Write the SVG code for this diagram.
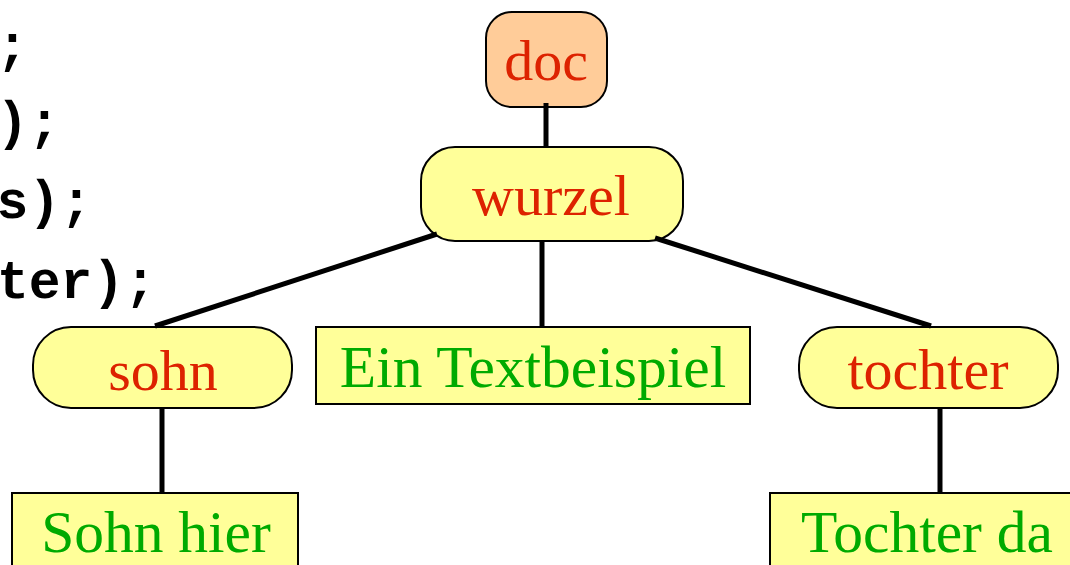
<svg xmlns="http://www.w3.org/2000/svg" width="1070" height="565" viewBox="0 0 1070 565">
<style>
.code{font-family:"Liberation Mono",monospace;font-weight:bold;font-size:53px;fill:#000;text-anchor:end}
.box{fill:#FFFF99;stroke:#000;stroke-width:2}
.root{fill:#FFCC99;stroke:#000;stroke-width:2}
.el{font-family:"Liberation Serif",serif;font-size:58px;fill:#DD2200;text-anchor:middle}
.tx{font-family:"Liberation Serif",serif;font-size:59.5px;fill:#00AA00;text-anchor:middle}
.conn line{stroke:#000;stroke-width:5}
</style>
<rect width="1070" height="565" fill="#fff"/>
<g id="code">
<text class="code" x="28" y="62">;</text>
<text class="code" x="60" y="139">);</text>
<text class="code" x="92" y="218">s);</text>
<text class="code" x="156" y="298">ter);</text>
</g>
<g id="n-doc"><rect class="root" x="486" y="12" width="121" height="95" rx="26"/><text class="el" x="546" y="80">doc</text></g>
<g id="n-wurzel"><rect class="box" x="421" y="147" width="262" height="94" rx="34"/><text class="el" x="551" y="215">wurzel</text></g>
<g id="n-sohn"><rect class="box" x="33" y="327" width="259" height="81" rx="38"/><text class="el" x="163" y="390">sohn</text></g>
<g id="n-text"><rect class="box" x="316" y="327" width="434" height="77"/><text class="tx" x="533" y="387">Ein Textbeispiel</text></g>
<g id="n-tochter"><rect class="box" x="799" y="327" width="259" height="81" rx="38"/><text class="el" x="928" y="389">tochter</text></g>
<g id="n-sohnhier"><rect class="box" x="12" y="493" width="286" height="90"/><text class="tx" x="156" y="552">Sohn hier</text></g>
<g id="n-tochterda"><rect class="box" x="770" y="493" width="314" height="90"/><text class="tx" x="927" y="552">Tochter da</text></g>
<g id="connectors" class="conn">
<line x1="546" y1="103" x2="546" y2="147"/>
<line x1="437" y1="234" x2="155" y2="326"/>
<line x1="542" y1="241" x2="542" y2="327"/>
<line x1="655" y1="238" x2="931" y2="326"/>
<line x1="162" y1="408" x2="162" y2="493"/>
<line x1="940" y1="408" x2="940" y2="493"/>
</g>
</svg>
